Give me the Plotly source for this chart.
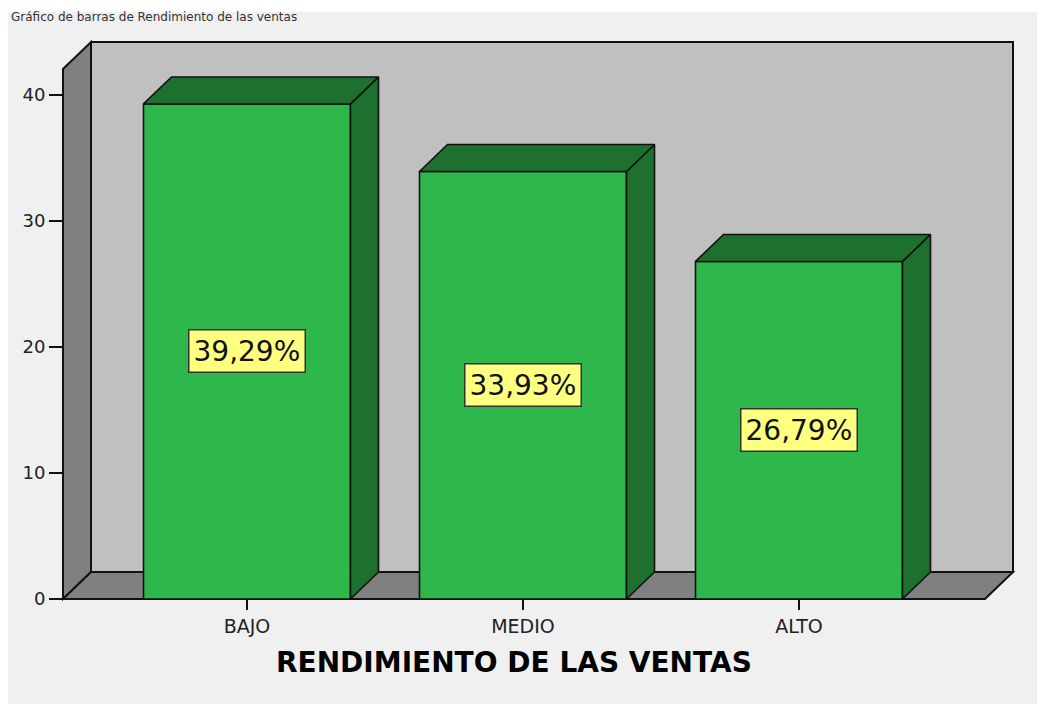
import plotly.graph_objects as go

# ---- data ----
categories = ["BAJO", "MEDIO", "ALTO"]
percentages = [39.29, 33.93, 26.79]
y_ticks = [0, 10, 20, 30, 40]
chart_title = "Gráfico de barras de Rendimiento de las ventas"
x_title = "RENDIMIENTO DE LAS VENTAS"

# ---- styling ----
FRONT = "#2eb84b"
DARK = "#1e702f"
BACK_WALL = "#c0c0c0"
SIDE_WALL = "#808080"
PANEL = "#f0f0f0"
EDGE = "#111111"
FONT = "DejaVu Sans"

W, H = 1045, 704
BODY = 8                      # default page margin around the figure
PL, PT, PW, PH = 30, 30, 1005, 614   # plot area in page pixels
ML, MT = PL - BODY, PT - BODY
MR, MB = W - ML - PW, H - MT - PH

def px_x(p):  # page x pixel -> paper fraction
    return (p - PL) / PW

def px_y(p):  # page y pixel -> paper fraction
    return (PT + PH - p) / PH

# geometry in data units (x: category index, y: percent)
X_RANGE = [-0.78623, 2.85507]
Y_RANGE = [-3.5714, 45.1587]
BAR_W = 0.75
DX, DY = 0.10145, 2.1429          # 3-D depth offset
XL, XR, YTOP = -0.66667, 2.67391, 42.063

xs = list(range(len(categories)))

fig = go.Figure()

# front faces
fig.add_trace(go.Bar(
    x=xs, y=percentages, width=BAR_W,
    marker=dict(color=FRONT, line=dict(color=EDGE, width=1.6)),
    hoverinfo="skip", showlegend=False,
))

# side and top faces
for x, v in zip(xs, percentages):
    xl, xr = x - BAR_W / 2, x + BAR_W / 2
    fig.add_trace(go.Scatter(
        x=[xr, xr + DX, xr + DX, xr, xr],
        y=[0, DY, v + DY, v, 0],
        mode="lines", fill="toself", fillcolor=DARK,
        line=dict(color=EDGE, width=1.6),
        hoverinfo="skip", showlegend=False,
    ))
    fig.add_trace(go.Scatter(
        x=[xl, xr, xr + DX, xl + DX, xl],
        y=[v, v, v + DY, v + DY, v],
        mode="lines", fill="toself", fillcolor=DARK,
        line=dict(color=EDGE, width=1.6),
        hoverinfo="skip", showlegend=False,
    ))

def path(pts):
    return "M " + " L ".join(f"{a},{b}" for a, b in pts) + " Z"

shapes = [
    # grey panel
    dict(type="rect", xref="paper", yref="paper", layer="below",
         x0=px_x(8), x1=px_x(W + 20), y0=px_y(H + 20), y1=px_y(12),
         fillcolor=PANEL, line=dict(width=0)),
    # back wall
    dict(type="rect", xref="x", yref="y", layer="below",
         x0=XL + DX, x1=XR + DX, y0=DY, y1=YTOP + DY,
         fillcolor=BACK_WALL, line=dict(color=EDGE, width=2)),
    # left wall
    dict(type="path", xref="x", yref="y", layer="below",
         path=path([(XL, 0), (XL, YTOP), (XL + DX, YTOP + DY), (XL + DX, DY)]),
         fillcolor=SIDE_WALL, line=dict(color=EDGE, width=2)),
    # floor
    dict(type="path", xref="x", yref="y", layer="below",
         path=path([(XL, 0), (XR, 0), (XR + DX, DY), (XL + DX, DY)]),
         fillcolor=SIDE_WALL, line=dict(color=EDGE, width=2)),
]

annotations = []
for x, v in zip(xs, percentages):
    annotations.append(dict(
        x=x, y=v / 2, xref="x", yref="y",
        text=f"{v:.2f}%".replace(".", ","), showarrow=False,
        font=dict(family=FONT, size=28, color="#111111"),
        bgcolor="#ffff80", bordercolor="#333333", borderwidth=1.5, borderpad=4,
    ))

annotations.append(dict(
    x=px_x(514), y=px_y(662), xref="paper", yref="paper",
    text=f"<b>{x_title}</b>", showarrow=False,
    font=dict(family=FONT, size=28, color="#000000"),
    xanchor="center", yanchor="middle",
))
annotations.append(dict(
    x=px_x(10), y=px_y(9), xref="paper", yref="paper",
    text=chart_title, showarrow=False,
    font=dict(family=FONT, size=12, color="#333333"),
    xanchor="left", yanchor="top", borderpad=0,
))

fig.update_layout(
    width=W, height=H,
    margin=dict(l=ML, r=MR, t=MT, b=MB, pad=0),
    paper_bgcolor="#ffffff", plot_bgcolor="rgba(0,0,0,0)",
    shapes=shapes, annotations=annotations,
    hovermode=False, showlegend=False,
    xaxis=dict(
        range=X_RANGE, anchor="free", position=px_y(599),
        tickmode="array", tickvals=xs, ticktext=categories,
        ticks="outside", ticklen=10, tickwidth=1.5, tickcolor="#111111",
        tickfont=dict(family=FONT, size=19, color="#222222"),
        showgrid=False, zeroline=False, showline=False, fixedrange=True,
    ),
    yaxis=dict(
        range=Y_RANGE, anchor="free", position=px_x(63),
        tickmode="array", tickvals=y_ticks,
        ticks="outside", ticklen=14, tickwidth=1.5, tickcolor="#111111",
        tickfont=dict(family=FONT, size=18, color="#222222"),
        showgrid=False, zeroline=False, showline=False, fixedrange=True,
    ),
)

fig.write_html("out.html")
